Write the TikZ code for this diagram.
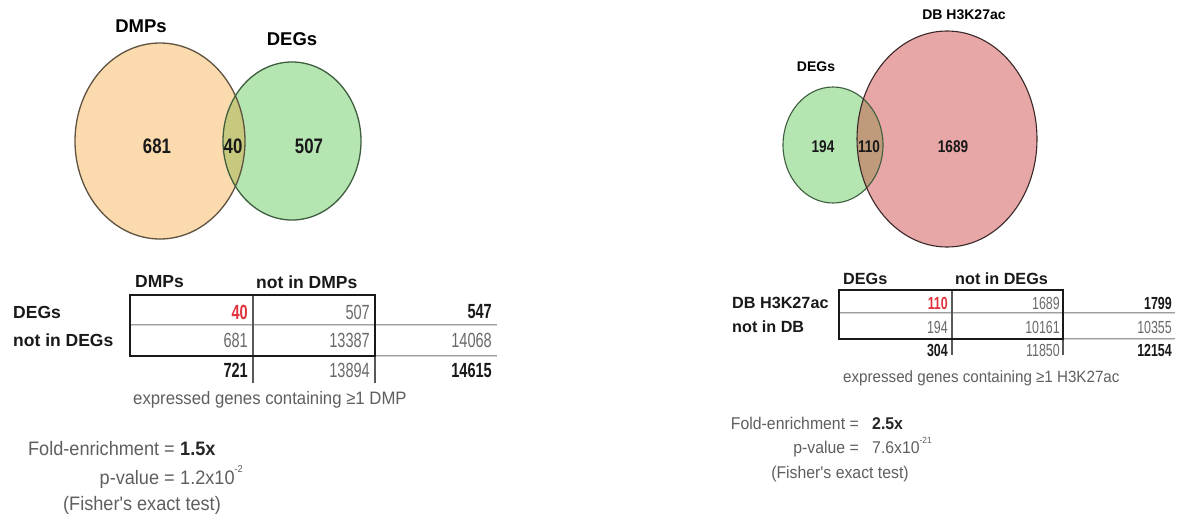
\documentclass[tikz,border=0pt]{standalone}
\usepackage{fontspec}
\setmainfont{Liberation Sans}
\newfontfamily\numfont{Liberation Sans}[FakeStretch=0.71]
\newfontfamily\vnumfont{Liberation Sans}[FakeStretch=0.8]
\newfontfamily\txtfont{Liberation Sans}[FakeStretch=0.93]
\definecolor{orangefill}{HTML}{FBDAAE}
\definecolor{greenfill}{HTML}{B5E6B2}
\definecolor{olivefill}{HTML}{C6C97E}
\definecolor{redfill}{HTML}{E8A7A7}
\definecolor{brownfill}{HTML}{BF9B7C}
\definecolor{orangeedge}{HTML}{5E5240}
\definecolor{greenedge}{HTML}{3E5E3E}
\definecolor{rededge}{HTML}{3A2828}
\definecolor{txtgray}{HTML}{5F5F5F}
\definecolor{numgray}{HTML}{6A6A6A}
\definecolor{numred}{HTML}{E0323C}
\newcommand{\fsz}[1]{\fontsize{#1}{#1}\selectfont}
\tikzset{
  vennlabel/.style={inner sep=0pt, font=\fsz{18.5}\bfseries, text=black},
  vennnum/.style={inner sep=0pt, font=\fsz{21}\vnumfont\bfseries, text=black!90},
  vennlabelS/.style={inner sep=0pt, font=\fsz{14}\bfseries, text=black},
  vennnumS/.style={inner sep=0pt, font=\fsz{17}\vnumfont\bfseries, text=black!90},
  hdr/.style={inner sep=0pt, font=\fsz{#1}\bfseries, text=black!90},
  cell/.style={inner sep=0pt, anchor=east, font=\fsz{#1}\numfont, text=numgray},
  cellb/.style={inner sep=0pt, anchor=east, font=\fsz{#1}\numfont\bfseries, text=black!90},
  cellr/.style={inner sep=0pt, anchor=east, font=\fsz{#1}\numfont\bfseries, text=numred},
  note/.style={inner sep=0pt, font=\fsz{#1}\txtfont, text=txtgray},
  noteb/.style={inner sep=0pt, font=\fsz{#1}\txtfont\bfseries, text=black!85},
  boxline/.style={line width=2pt, draw=black!90},
  rowline/.style={draw=gray!75, line width=0.7pt, double=gray!35, double distance=0.9pt},
  colline/.style={draw=black!65, line width=1.1pt},
}
\begin{document}
\begin{tikzpicture}[x=1pt, y=-1pt]
\useasboundingbox[fill=white] (0,0) rectangle (1182,520);

% ---------- left Venn: DMPs vs DEGs ----------
\fill[orangefill] (160,141) ellipse [x radius=85pt, y radius=98pt];
\fill[greenfill] (292,141) ellipse [x radius=69pt, y radius=79pt];
\begin{scope}
  \clip (160,141) ellipse [x radius=85pt, y radius=98pt];
  \fill[olivefill] (292,141) ellipse [x radius=69pt, y radius=79pt];
\end{scope}
\draw[orangeedge, line width=1.3pt] (160,141) ellipse [x radius=85pt, y radius=98pt];
\draw[greenedge, line width=1.3pt] (292,141) ellipse [x radius=69pt, y radius=79pt];
\node[vennlabel] (ldmp) at (141,26) {DMPs};
\node[vennlabel] (ldeg) at (292,39) {DEGs};
\node[vennnum] (l681) at (157,146) {681};
\node[vennnum] (l40) at (233,146) {40};
\node[vennnum] (l507) at (309,146) {507};

% ---------- right Venn: DEGs vs DB H3K27ac ----------
\fill[greenfill] (833,145) ellipse [x radius=50pt, y radius=58pt];
\fill[redfill] (947,139) ellipse [x radius=90pt, y radius=108pt];
\begin{scope}
  \clip (947,139) ellipse [x radius=90pt, y radius=108pt];
  \fill[brownfill] (833,145) ellipse [x radius=50pt, y radius=58pt];
\end{scope}
\draw[greenedge, line width=1.1pt] (833,145) ellipse [x radius=50pt, y radius=58pt];
\draw[rededge, line width=1.1pt] (947,139) ellipse [x radius=90pt, y radius=108pt];
\node[vennlabelS] (rdeg) at (816,67) {DEGs};
\node[vennlabelS] (rdb) at (964,15) {DB H3K27ac};
\node[vennnumS] (r194) at (823,147) {194};
\node[vennnumS] (r110) at (869,147) {110};
\node[vennnumS] (r1689) at (953,147) {1689};

% ---------- left contingency table ----------
\draw[rowline] (130,325) -- (497,325);
\draw[rowline] (375,356) -- (497,356);
\draw[colline] (253,295) -- (253,383);
\draw[colline] (375,356) -- (375,383);
\draw[boxline] (130,295) rectangle (375,356);
\node[hdr=17.5, anchor=west] (lh1) at (135,282) {DMPs};
\node[hdr=17.5, anchor=west] (lh2) at (256,282) {not in DMPs};
\node[hdr=17.5, anchor=west] (lr1) at (13,312) {DEGs};
\node[hdr=17.5, anchor=west] (lr2) at (13,340) {not in DEGs};
\node[cellr=20.5] (la11) at (248,312) {40};
\node[cell=20.5]  (la12) at (370,312) {507};
\node[cellb=20.5] (la13) at (492,312) {547};
\node[cell=20.5]  (la21) at (248,340) {681};
\node[cell=20.5]  (la22) at (370,340) {13387};
\node[cell=20.5]  (la23) at (492,340) {14068};
\node[cellb=20.5] (la31) at (248,370) {721};
\node[cell=20.5]  (la32) at (370,370) {13894};
\node[cellb=20.5] (la33) at (492,370) {14615};
\node[note=18, anchor=west] (lcap) at (133,400) {expressed genes containing ≥1 DMP};
\node[note=19.5, anchor=base east] (lfold) at (175,455) {Fold-enrichment =};
\node[noteb=19.5, anchor=base west] (lfoldv) at (180,455) {1.5x};
\node[note=19.5, anchor=base east] (lp) at (175,484) {p-value =};
\node[note=19.5, anchor=base west] (lpv) at (180,484) {1.2x10\raisebox{1.1ex}{\fsz{10}-2}};
\node[note=19.5, anchor=base] (lfish) at (142,510) {(Fisher's exact test)};

% ---------- right contingency table ----------
\draw[rowline] (839,313) -- (1175,313);
\draw[rowline] (1063,339) -- (1175,339);
\draw[colline] (952,290) -- (952,355);
\draw[colline] (1063,339) -- (1063,355);
\draw[boxline] (839,290) rectangle (1063,339);
\node[hdr=16.2, anchor=west] (rh1) at (843,279) {DEGs};
\node[hdr=16.2, anchor=west] (rh2) at (955,279) {not in DEGs};
\node[hdr=16.2, anchor=west] (rr1) at (732,303) {DB H3K27ac};
\node[hdr=16.2, anchor=west] (rr2) at (732,327) {not in DB};
\node[cellr=17.5] (ra11) at (948,303) {110};
\node[cell=17.5]  (ra12) at (1060,303) {1689};
\node[cellb=17.5] (ra13) at (1172,303) {1799};
\node[cell=17.5]  (ra21) at (948,327) {194};
\node[cell=17.5]  (ra22) at (1060,327) {10161};
\node[cell=17.5]  (ra23) at (1172,327) {10355};
\node[cellb=17.5] (ra31) at (948,350) {304};
\node[cell=17.5]  (ra32) at (1060,350) {11850};
\node[cellb=17.5] (ra33) at (1172,350) {12154};
\node[note=16.3, anchor=west] (rcap) at (843,378) {expressed genes containing ≥1 H3K27ac};
\node[note=17, anchor=base east] (rfold) at (859,429) {Fold-enrichment =};
\node[noteb=17, anchor=base west] (rfoldv) at (872,429) {2.5x};
\node[note=17, anchor=base east] (rp) at (859,453) {p-value =};
\node[note=17, anchor=base west] (rpv) at (872,453) {7.6x10\raisebox{1.1ex}{\fsz{9}-21}};
\node[note=17, anchor=base] (rfish) at (840,478) {(Fisher's exact test)};
\end{tikzpicture}
\end{document}
